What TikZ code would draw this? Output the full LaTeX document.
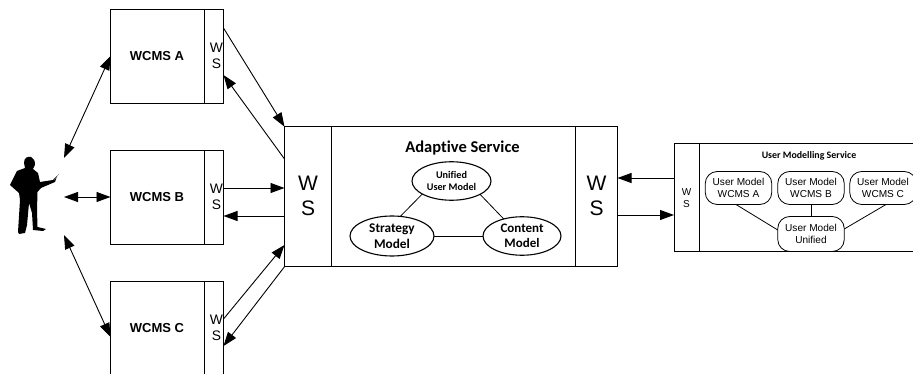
\documentclass[tikz,border=0pt]{standalone}
\usepackage{fontspec}
\setmainfont{Liberation Sans}
\newfontfamily\carl[Ligatures=NoCommon]{Carlito}
\usetikzlibrary{arrows.meta,shapes.geometric}
\tikzset{
 box/.style={draw,line width=0.9pt,inner sep=0pt,outer sep=0pt,anchor=north west},
 ell/.style={draw,ellipse,line width=1.1pt,inner sep=0pt,outer sep=0pt,align=center},
 rbox/.style={draw,rounded corners=12pt,line width=0.8pt,inner sep=0pt,outer sep=0pt,align=center,font=\fontsize{10.1}{12}\selectfont,minimum width=66.5pt,minimum height=33pt},
 link/.style={line width=0.8pt},
 arr/.style={line width=0.9pt,-{Triangle[length=14pt,width=10pt]}},
 biarr/.style={line width=0.9pt,{Triangle[length=14pt,width=10pt]}-{Triangle[length=14pt,width=10pt]}},
 wsS/.style={align=center,font=\fontsize{13.8}{16}\selectfont,inner sep=0pt},
 wsL/.style={align=center,font=\fontsize{21}{24.5}\selectfont,inner sep=0pt},
 wsT/.style={align=center,font=\fontsize{10}{11.7}\selectfont,inner sep=0pt},
 title/.style={font=\fontsize{13}{15}\selectfont\bfseries,inner sep=0pt},
}
\begin{document}
\begin{tikzpicture}[x=1pt,y=-1pt]
\useasboundingbox (0,0) rectangle (913,374);
\begin{scope}
\clip (0,0) rectangle (913,374);
\node[box,minimum width=94pt,minimum height=94pt] (a) at (110.5,9) {};
\node[box,minimum width=19pt,minimum height=94pt] (wa) at (204.5,9) {};
\node[box,minimum width=94pt,minimum height=94pt] (b) at (110.5,150) {};
\node[box,minimum width=19pt,minimum height=94pt] (wb) at (204.5,150) {};
\node[box,minimum width=94pt,minimum height=110pt] (c) at (110.5,281.5) {};
\node[box,minimum width=19pt,minimum height=110pt] (wc) at (204.5,281.5) {};
\node[box,minimum width=47pt,minimum height=140pt] (as1) at (284.5,126.7) {};
\node[box,minimum width=244pt,minimum height=140pt] (as2) at (331.5,126.7) {};
\node[box,minimum width=42pt,minimum height=140pt] (as3) at (575.5,126.7) {};
\node[box,minimum width=25pt,minimum height=108pt] (u1) at (674,143.5) {};
\node[box,minimum width=230pt,minimum height=108pt] (u2) at (699,143.5) {};
\end{scope}
\node[title] (ta) at (157,56) {WCMS A};
\node[title] (tb) at (157,197) {WCMS B};
\node[title] (tc) at (157,328) {WCMS C};
\node[wsS] (wla) at (216.5,56) {W\\S};
\node[wsS] (wlb) at (216.5,197) {W\\S};
\node[wsS] (wlc) at (216.5,328) {W\\S};
\node[wsL] (wl1) at (308,196) {W\\S};
\node[wsL] (wl3) at (596.5,196) {W\\S};
\node[wsT] (wl4) at (686.5,198) {W\\S};
\node[inner sep=0pt,font=\carl\bfseries\fontsize{16.5}{18}\selectfont] (tas) at (462.5,148) {Adaptive Service};
\node[inner sep=0pt,font=\carl\bfseries\fontsize{9.9}{11}\selectfont] (tum) at (809,156) {User Modelling Service};
\node[ell,minimum width=79pt,minimum height=38.5pt,font=\carl\bfseries\fontsize{10.2}{12}\selectfont] (uum) at (451.5,181) {Unified\\User Model};
\node[ell,minimum width=84pt,minimum height=40pt,font=\carl\bfseries\fontsize{13.3}{15.7}\selectfont] (sm) at (392,236) {Strategy\\Model};
\node[ell,minimum width=78pt,minimum height=38.5pt,font=\carl\bfseries\fontsize{13}{15.5}\selectfont] (cm) at (522,236) {Content\\Model};
\draw[link] (uum.204) -- (sm.67);
\draw[link] (uum.-25) -- (cm.137);
\draw[link] (sm) -- (cm);
\node[rbox] (ra) at (738.5,188) {User Model\\WCMS A};
\node[rbox] (rb) at (811,188) {User Model\\WCMS B};
\node[rbox] (rc) at (883,188) {User Model\\WCMS C};
\node[rbox,minimum height=35pt] (ru) at (811,234) {User Model\\Unified};
\draw[link] ([xshift=-2.5pt]ra.south) -- ([yshift=4pt]ru.west);
\draw[link] (rb) -- (ru);
\draw[link] ([xshift=3pt]rc.south) -- ([yshift=5pt]ru.east);
% person
\fill (24,163) .. controls (24,157) and (28,156.5) .. (31,157) .. controls (34,158) and (35,161) .. (35,165) -- (33,169) -- (38,173) -- (40,182) -- (53,180) -- (57,176) -- (55,182) -- (41,188) -- (37.5,192) -- (37,210) -- (37.5,227) -- (46,229) -- (43,231) -- (33,230) -- (32,213) -- (29,203) -- (27,225) -- (25,233) -- (19,234) -- (18,232) -- (20,200) -- (19,193) -- (10,185) -- (17,171) -- (25,168) -- cycle;
\draw[line width=0.4pt,gray] (54,180) -- (59,174);
\coordinate (pa) at (64,158);
\coordinate (pb) at (64,197);
\coordinate (pc) at (64,235);
\coordinate (ca) at (110.5,337);
\coordinate (a1) at (223.5,28);
\coordinate (a2) at (223.5,75);
\coordinate (a3) at (284.5,159);
\coordinate (b1) at (223.5,188);
\coordinate (b2) at (284.5,188);
\coordinate (b3) at (284.5,216);
\coordinate (b4) at (223.5,216);
\coordinate (c1) at (223.5,319);
\coordinate (c2) at (284.5,245);
\coordinate (c3) at (223.5,346);
\coordinate (r1) at (617.5,178);
\coordinate (r2) at (674,178);
\coordinate (r3) at (617.5,215);
\coordinate (r4) at (674,215);
\draw[biarr] (pa) -- (a.west);
\draw[biarr] (pb) -- (b.west);
\draw[biarr] (pc) -- (ca);
\draw[arr] (a1) -- (as1.north west);
\draw[arr] (a3) -- (a2);
\draw[arr] (b1) -- (b2);
\draw[arr] (b3) -- (b4);
\draw[arr] (c1) -- (c2);
\draw[arr] (as1.south west) -- (c3);
\draw[arr] (r2) -- (r1);
\draw[arr] (r3) -- (r4);
\end{tikzpicture}
\end{document}
